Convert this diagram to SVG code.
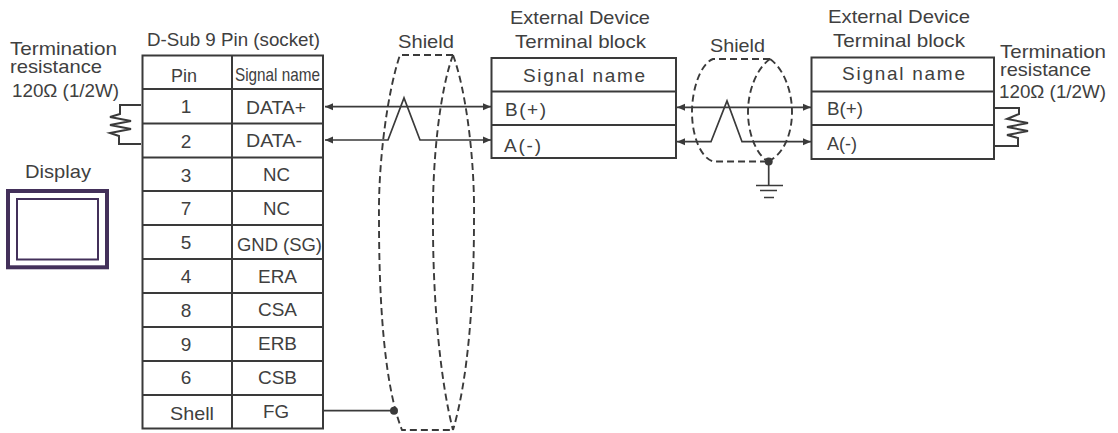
<svg xmlns="http://www.w3.org/2000/svg" width="1118" height="433" viewBox="0 0 1118 433">
<defs>
<marker id="ah" markerUnits="userSpaceOnUse" markerWidth="9" markerHeight="8" refX="8" refY="4" orient="auto-start-reverse"><path d="M0 0.500L8 4L0 7.500Z" fill="#3a3a3a"/></marker>
</defs>
<style>
text{font-family:"Liberation Sans",Arial,sans-serif;fill:#404040;font-size:19px}
.m{text-anchor:middle}
.b{fill:none;stroke:#3a3a3a;stroke-width:2}
.w{fill:none;stroke:#3a3a3a;stroke-width:1.700}
.d{fill:none;stroke:#3a3a3a;stroke-width:1.900;stroke-dasharray:7 4}
.f{fill:#3a3a3a}
</style>
<g id="left-termination">
<text x="10" y="55" textLength="107" lengthAdjust="spacingAndGlyphs">Termination</text>
<text x="10" y="72.500" textLength="92" lengthAdjust="spacingAndGlyphs">resistance</text>
<text x="12" y="96.500" textLength="107" lengthAdjust="spacingAndGlyphs">120Ω (1/2W)</text>
<path class="b" d="M141 105H120V114L110 117L131 121L110 125L131 129L110 133L119 136V144H141"/>
</g>
<g id="display">
<text x="25" y="178" textLength="66" lengthAdjust="spacingAndGlyphs">Display</text>
<rect x="8" y="191" width="99" height="76.300" fill="none" stroke="#43305a" stroke-width="4"/>
<rect x="17" y="199" width="81" height="60.500" fill="none" stroke="#43305a" stroke-width="2"/>
</g>
<g id="dsub-table">
<text x="147" y="46" textLength="173" lengthAdjust="spacingAndGlyphs">D-Sub 9 Pin  (socket)</text>
<path class="b" d="M142.500 55.500H323V428.500H142.500ZM232 55.500V428.500M142.500 89H323M142.500 123.500H323M142.500 157.500H323M142.500 191H323M142.500 225H323M142.500 259H323M142.500 293H323M142.500 327H323M142.500 361H323M142.500 395H323"/>
<text x="171" y="82" textLength="26" lengthAdjust="spacingAndGlyphs">Pin</text>
<text x="235" y="80.500" textLength="85" lengthAdjust="spacingAndGlyphs">Signal name</text>
<text class="m" x="186" y="113">1</text><text x="246" y="114" textLength="60" lengthAdjust="spacingAndGlyphs">DATA+</text>
<text class="m" x="186" y="148">2</text><text x="246" y="147" textLength="56" lengthAdjust="spacingAndGlyphs">DATA-</text>
<text class="m" x="186" y="181.500">3</text><text x="263" y="181" textLength="27" lengthAdjust="spacingAndGlyphs">NC</text>
<text class="m" x="186" y="215">7</text><text x="263" y="215" textLength="27" lengthAdjust="spacingAndGlyphs">NC</text>
<text class="m" x="186" y="249">5</text><text x="237" y="250.500" textLength="85" lengthAdjust="spacingAndGlyphs">GND (SG)</text>
<text class="m" x="186" y="283">4</text><text x="258" y="282.500" textLength="39" lengthAdjust="spacingAndGlyphs">ERA</text>
<text class="m" x="186" y="316.500">8</text><text x="258" y="316" textLength="39" lengthAdjust="spacingAndGlyphs">CSA</text>
<text class="m" x="186" y="351">9</text><text x="258" y="350" textLength="39" lengthAdjust="spacingAndGlyphs">ERB</text>
<text class="m" x="186" y="384">6</text><text x="258" y="383.500" textLength="39" lengthAdjust="spacingAndGlyphs">CSB</text>
<text x="170" y="420" textLength="44" lengthAdjust="spacingAndGlyphs">Shell</text><text x="263" y="418" textLength="26" lengthAdjust="spacingAndGlyphs">FG</text>
</g>
<g id="device-1">
<text x="510" y="24" textLength="140" lengthAdjust="spacingAndGlyphs">External Device</text>
<text x="515" y="48" textLength="131" lengthAdjust="spacingAndGlyphs">Terminal block</text>
<path class="b" d="M491.500 58H676V158H491.500ZM491.500 91.500H676M491.500 125H676"/>
<text x="523" y="82" textLength="122">Signal name</text>
<text x="505" y="116" textLength="41">B(+)</text>
<text x="504" y="152" textLength="37">A(-)</text>
</g>
<g id="device-2">
<text x="828" y="23" textLength="142" lengthAdjust="spacingAndGlyphs">External Device</text>
<text x="833" y="47" textLength="132" lengthAdjust="spacingAndGlyphs">Terminal block</text>
<path class="b" d="M811.500 57.500H994V159H811.500ZM811.500 91.500H994M811.500 125H994"/>
<text x="842" y="79.500" textLength="123">Signal name</text>
<text x="827" y="115" textLength="36" lengthAdjust="spacingAndGlyphs">B(+)</text>
<text x="827" y="150" textLength="30" lengthAdjust="spacingAndGlyphs">A(-)</text>
</g>
<g id="right-termination">
<text x="1000" y="58" textLength="106" lengthAdjust="spacingAndGlyphs">Termination</text>
<text x="1000" y="76" textLength="91" lengthAdjust="spacingAndGlyphs">resistance</text>
<text x="999" y="98" textLength="107" lengthAdjust="spacingAndGlyphs">120Ω (1/2W)</text>
<path class="b" d="M995 108H1019V114L1007 119L1028 123L1007 127L1028 131L1007 135L1018 138V146H995"/>
</g>
<g id="ground">
<path class="w" d="M768.700 162V185M756 185.500H783M760 190.500H777M764 197.500H774"/>
<circle class="f" cx="768.700" cy="161.500" r="4"/>
</g>
<g id="connectors">
<path class="w" d="M325 106.700H491" marker-start="url(#ah)" marker-end="url(#ah)"/>
<path class="w" d="M325 140H388L404 98L420 140H491" marker-start="url(#ah)" marker-end="url(#ah)"/>
<path class="w" d="M677 107.300H811" marker-start="url(#ah)" marker-end="url(#ah)"/>
<path class="w" d="M677 141.700H711L727 101L742 141.700H811" marker-start="url(#ah)" marker-end="url(#ah)"/>
<path class="w" d="M323 410.700H394"/>
<circle class="f" cx="394" cy="410.700" r="4"/>
<path class="d" d="M453 55H400C388 90 378 160 379 220C379 300 384 385 402 430H453"/>
<path class="d" d="M453 55C440 90 432 160 433 225C433 300 440 380 453 430"/>
<path class="d" d="M453 55C466 90 475 160 474 220C474 300 468 380 453 430"/>
<path class="d" d="M770 59H713C700 64 692 90 692 112C692 135 700 157 713 161.500H768"/>
<path class="d" d="M770 59C757 68 748 90 748 112C748 135 757 155 768 161.500"/>
<path class="d" d="M770 59C783 68 792 90 792 112C792 135 783 155 768 161.500"/>
</g>
<g id="shield-labels">
<text x="398" y="48" textLength="56" lengthAdjust="spacingAndGlyphs">Shield</text>
<text x="710" y="52" textLength="55" lengthAdjust="spacingAndGlyphs">Shield</text>
</g>
</svg>
